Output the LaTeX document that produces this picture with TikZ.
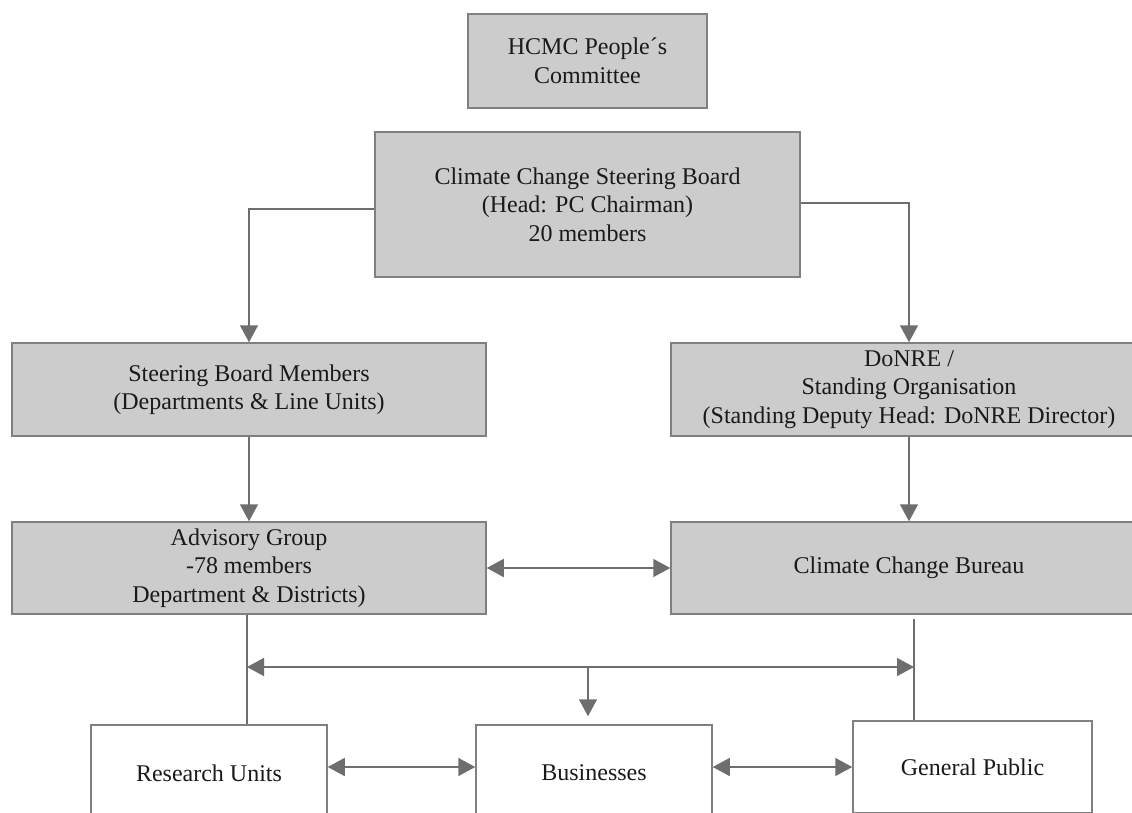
\documentclass[tikz,border=0pt]{standalone}
\usepackage{fontspec}
\setmainfont{Liberation Serif}
\usetikzlibrary{arrows.meta}
\definecolor{boxgray}{HTML}{CCCCCC}
\definecolor{edgegray}{HTML}{808080}
\definecolor{arrgray}{HTML}{6E6E6E}
\definecolor{txt}{HTML}{1A1A1A}
\tikzset{
  graybox/.style={draw=edgegray, line width=1.5pt, fill=boxgray, inner sep=0pt, align=center,
    text=txt, font=\fontsize{24}{28.5}\selectfont},
  whitebox/.style={graybox, fill=white},
  conn/.style={draw=arrgray, line width=1.5pt},
  arr/.style={conn, -{Triangle[length=17pt,width=18pt]}},
  darr/.style={conn, {Triangle[length=17pt,width=18pt]}-{Triangle[length=17pt,width=18pt]}},
}
\begin{document}
\begin{tikzpicture}[x=1pt,y=-1pt]
\useasboundingbox (0,0) rectangle (1132,812);
\clip (0,0) rectangle (1132,812);
\fill[white] (0,0) rectangle (1132,812);

\node[graybox, minimum width=239pt, minimum height=94pt] (hcmc) at (587.5,61) {HCMC People´s\\Committee};
\node[graybox, minimum width=425pt, minimum height=145pt] (ccsb) at (587.5,204.5) {Climate Change Steering Board\\(Head: PC Chairman)\\20 members};
\node[graybox, minimum width=474pt, minimum height=93pt] (sbm) at (249,389.5) {Steering Board Members\\(Departments \& Line Units)};
\node[graybox, minimum width=476pt, minimum height=93pt] (donre) at (909,389.5) {DoNRE /\\Standing Organisation\\(Standing Deputy Head: DoNRE Director)};
\node[graybox, minimum width=474pt, minimum height=92pt] (adv) at (249,568) {Advisory Group\\-78 members\\Department \& Districts)};
\node[graybox, minimum width=476pt, minimum height=92pt] (bur) at (909,568) {Climate Change Bureau};
\node[whitebox, minimum width=236pt, minimum height=96pt] (ru) at (209,773) {Research Units};
\node[whitebox, minimum width=236pt, minimum height=96pt] (bus) at (594,773) {Businesses};
\node[whitebox, minimum width=239pt, minimum height=92pt] (gp) at (972.5,767) {General Public};

% steering board to its two branches
\draw[arr] ([yshift=-4.5pt]ccsb.west) -| (sbm.north);
\draw[arr] ([yshift=1.5pt]ccsb.east) -| (donre.north);
\draw[arr] (sbm.south) -- (adv.north);
\draw[arr] (donre.south) -- (bur.north);
\draw[darr] (adv.east) -- (bur.west);

% distribution bus
\coordinate (bl) at (247,667);
\coordinate (br) at (914,667);
\coordinate (bm) at (588,667);
\coordinate (bt) at (914,619);
\draw[conn] (bl |- adv.south) -- (bl |- ru.north);
\draw[conn] (bt) -- (bt |- gp.north);
\draw[darr] (bl) -- (br);
\draw[arr, shorten >=8pt] (bm) -- (bm |- bus.north);

\draw[darr] ([yshift=6pt]ru.east) -- ([yshift=6pt]bus.west);
\draw[darr] (bus.east |- gp.west) -- (gp.west);
\end{tikzpicture}
\end{document}
